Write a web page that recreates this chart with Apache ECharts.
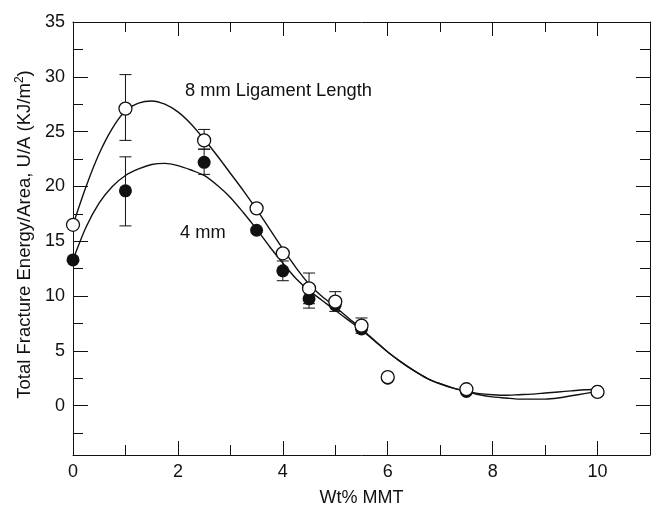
<!DOCTYPE html>
<html>
<head>
<meta charset="utf-8">
<title>Total fracture energy vs Wt% MMT</title>
<script src="https://cdn.jsdelivr.net/npm/echarts@6/dist/echarts.min.js"></script>
<style>
	html, body { margin: 0; padding: 0; background: #fff; }
	#chart { width: 651px; height: 509px; }
</style>
</head>
<body>
<div id="chart"></div>
<script>
// measured points (wt% MMT vs U/A)
var wt = [0, 1, 2.5, 3.5, 4, 4.5, 5, 5.5, 6, 7.5, 10];
var energy8mm = [16.5, 27.1, 24.2, 18.0, 13.9, 10.7, 9.5, 7.3, 2.6, 1.5, 1.25];
var energy4mm = [13.3, 19.6, 22.2, 16.0, 12.3, 9.75, 9.2, 7.0, 2.5, 1.3, 1.3];

// error bars: [x, low, high]
var err8mm = [[1, 24.2, 30.2], [2.5, 23.4, 25.2], [4.5, 9.3, 12.1], [5, 8.6, 10.4], [5.5, 6.6, 8.0]];
var err4mm = [[1, 16.4, 22.7], [2.5, 21.1, 23.4], [4, 11.4, 13.2], [4.5, 8.9, 10.6]];

// fitted curves, every 0.25 wt%
var fitX = [0, 0.25, 0.5, 0.75, 1, 1.25, 1.5, 1.75, 2, 2.25, 2.5, 2.75, 3, 3.25, 3.5, 3.75, 4, 4.25, 4.5, 4.75,
	5, 5.25, 5.5, 5.75, 6, 6.25, 6.5, 6.75, 7, 7.25, 7.5, 7.75, 8, 8.25, 8.5, 8.75, 9, 9.25, 9.5, 9.75, 10];
var fit8mm = [16.5, 20.0, 23.0, 25.3, 26.9, 27.6, 27.8, 27.5, 26.8, 25.7, 24.3, 22.8, 21.2, 19.6, 17.9, 16.1, 14.3, 12.6, 11.1, 9.95,
	9.0, 8.0, 7.0, 5.95, 4.9, 4.0, 3.2, 2.5, 2.0, 1.6, 1.3, 1.0, 0.8, 0.7, 0.6, 0.6, 0.6, 0.7, 0.9, 1.1, 1.3];
var fit4mm = [13.3, 16.3, 18.5, 20.0, 21.0, 21.6, 22.0, 22.1, 21.9, 21.5, 21.0, 20.1, 19.0, 17.6, 16.1, 14.5, 13.0, 11.6, 10.5, 9.6,
	8.7, 7.8, 6.9, 5.9, 4.9, 4.0, 3.2, 2.5, 2.0, 1.6, 1.3, 1.1, 1.0, 0.95, 1.0, 1.05, 1.15, 1.25, 1.35, 1.45, 1.5];

var xMajor = [0, 2, 4, 6, 8, 10];
var xMinor = [1, 3, 5, 7, 9];
var yMajor = [0, 5, 10, 15, 20, 25, 30, 35];
var yMinor = [-2.5, 2.5, 7.5, 12.5, 17.5, 22.5, 27.5, 32.5];

var FONT = 'Liberation Sans';
var INK = '#111';

function zip(xs, ys) {
	return xs.map(function(x, i) {
		return [x, ys[i]];
	});
}

// extra axes only for the inside ticks (minor ticks + mirrored top/right)
function tickAxis(pos, ticks, len, extra) {
	var ax = {
		type: 'value',
		position: pos,
		axisLine: { show: false, onZero: false },
		axisTick: { show: true, inside: true, length: len, customValues: ticks, lineStyle: { color: INK, width: 1 } },
		axisLabel: { show: false },
		splitLine: { show: false },
	};
	return Object.assign(ax, extra);
}

function errorBars(data) {
	return {
		type: 'custom',
		data: data,
		z: 1,
		renderItem: function(params, api) {
			var x = api.value(0);
			var top = api.coord([x, api.value(2)]);
			var bot = api.coord([x, api.value(1)]);
			var hw = 6;
			var st = { stroke: INK, lineWidth: 1 };
			return {
				type: 'group',
				children: [
					{ type: 'line', shape: { x1: top[0], y1: top[1], x2: bot[0], y2: bot[1] }, style: st },
					{ type: 'line', shape: { x1: top[0] - hw, y1: top[1], x2: top[0] + hw, y2: top[1] }, style: st },
					{ type: 'line', shape: { x1: bot[0] - hw, y1: bot[1], x2: bot[0] + hw, y2: bot[1] }, style: st },
				],
			};
		},
	};
}

function fitLine(name, ys) {
	return {
		name: name,
		type: 'line',
		data: zip(fitX, ys),
		smooth: 0.3,
		showSymbol: false,
		lineStyle: { color: INK, width: 1.4 },
		z: 2,
	};
}

var xr = { min: 0, max: 11 };
var yr = { min: -4.5, max: 35 };
var frameLine = { show: true, onZero: false, lineStyle: { color: INK, width: 1 } };

var option = {
	animation: false,
	backgroundColor: '#fff',
	textStyle: { fontFamily: FONT },
	grid: { left: 73, right: 1, top: 22, bottom: 54, outerBoundsMode: 'none', containLabel: false },
	xAxis: [
		{
			type: 'value',
			min: 0,
			max: 11,
			position: 'bottom',
			name: 'Wt% MMT',
			nameLocation: 'middle',
			nameGap: 34,
			nameTextStyle: { fontFamily: FONT, fontSize: 18, color: INK },
			axisLine: frameLine,
			axisTick: { show: true, inside: true, length: 14, customValues: xMajor, lineStyle: { color: INK } },
			axisLabel: { customValues: xMajor, margin: 8, fontFamily: FONT, fontSize: 18, color: INK },
			splitLine: { show: false },
		},
		tickAxis('bottom', xMinor, 10, xr),
		tickAxis('top', xMajor, 14, Object.assign({ axisLine: frameLine }, xr)),
		tickAxis('top', xMinor, 10, xr),
	],
	yAxis: [
		{
			type: 'value',
			min: -4.5,
			max: 35,
			position: 'left',
			name: 'Total Fracture Energy/Area, U/A (KJ/m{sup|2})',
			nameLocation: 'middle',
			nameGap: 37,
			nameTextStyle: {
				fontFamily: FONT,
				fontSize: 18.5,
				color: INK,
				padding: [0, 0, 0, 8],
				rich: { sup: { fontFamily: FONT, fontSize: 12, color: INK, verticalAlign: 'bottom', padding: [0, 0, 10, 0] } },
			},
			axisLine: frameLine,
			axisTick: { show: true, inside: true, length: 15, customValues: yMajor, lineStyle: { color: INK } },
			axisLabel: { customValues: yMajor, margin: 8, fontFamily: FONT, fontSize: 18, color: INK },
			splitLine: { show: false },
		},
		tickAxis('left', yMinor, 10, yr),
		tickAxis('right', yMajor, 14, Object.assign({ axisLine: frameLine }, yr)),
		tickAxis('right', yMinor, 10, yr),
	],
	graphic: [
		{ type: 'text', left: 185, top: 82, style: { text: '8 mm Ligament Length', fontFamily: FONT, fontSize: 18.3, fill: INK } },
		{ type: 'text', left: 180, top: 224, style: { text: '4 mm', fontFamily: FONT, fontSize: 18.3, fill: INK } },
	],
	series: [
		fitLine('fit 8 mm', fit8mm),
		fitLine('fit 4 mm', fit4mm),
		errorBars(err8mm),
		errorBars(err4mm),
		{
			name: '4 mm',
			type: 'scatter',
			data: zip(wt, energy4mm),
			symbol: 'circle',
			symbolSize: 13,
			itemStyle: { color: INK, opacity: 1 },
			z: 3,
		},
		{
			name: '8 mm',
			type: 'scatter',
			data: zip(wt, energy8mm),
			symbol: 'circle',
			symbolSize: 13,
			itemStyle: { color: '#fff', borderColor: INK, borderWidth: 1.3, opacity: 1 },
			z: 4,
		},
	],
};

var chart = echarts.init(document.getElementById('chart'));
chart.setOption(option);
</script>
</body>
</html>
